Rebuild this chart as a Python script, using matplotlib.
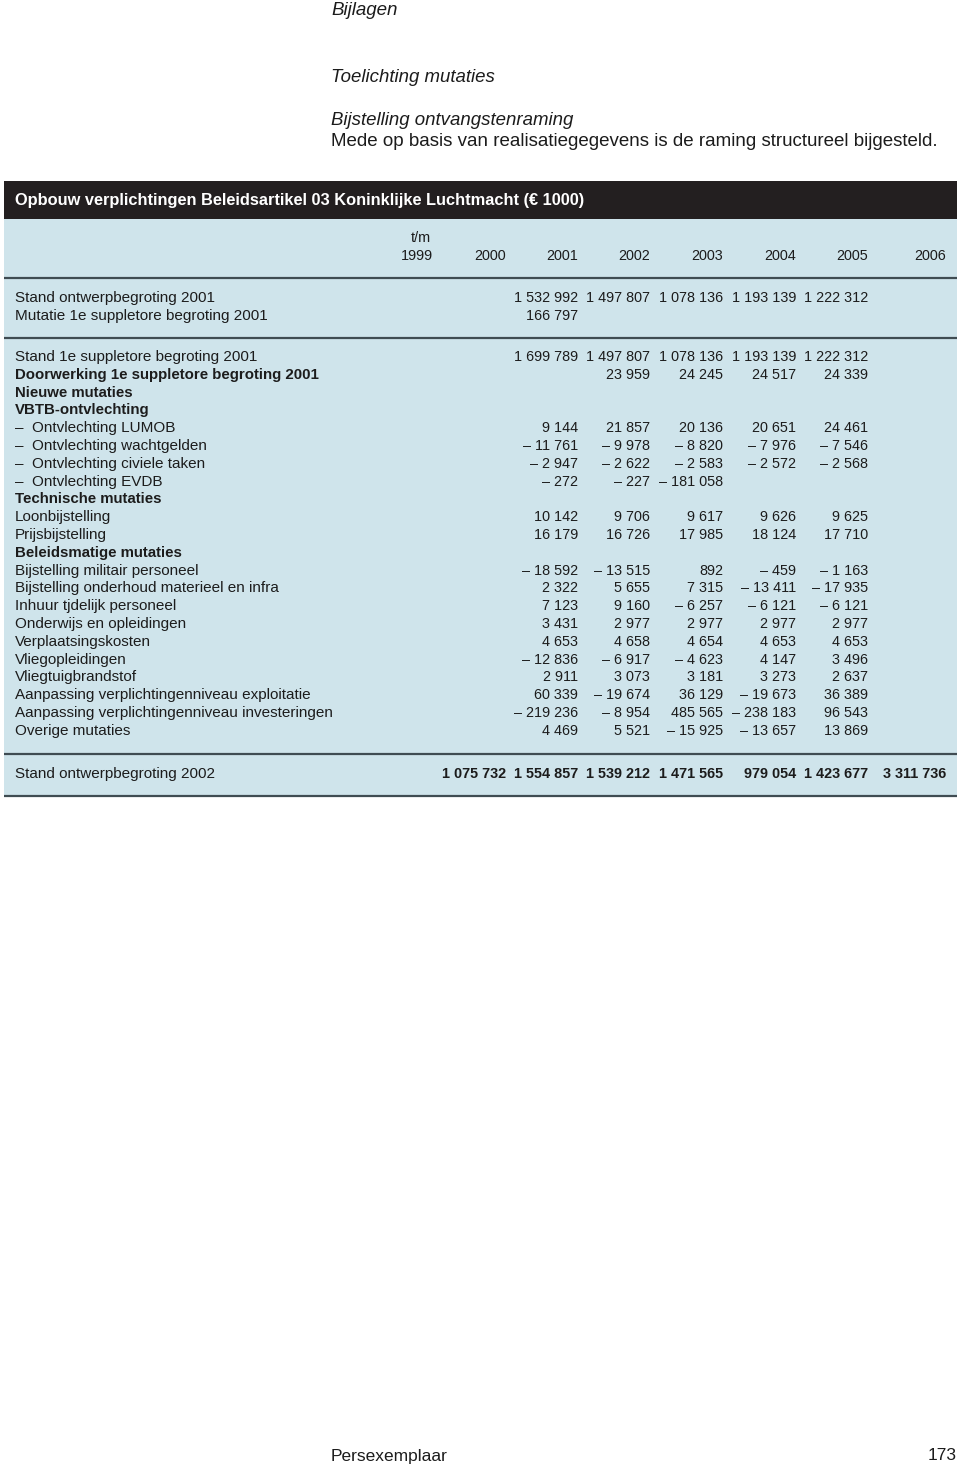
import matplotlib.pyplot as plt
from matplotlib.patches import Rectangle

plt.rcParams['font.family'] = ['Liberation Sans', 'DejaVu Sans']

# column headers
years = ["1999", "2000", "2001", "2002", "2003", "2004", "2005", "2006"]

# first block (2001 - 2005)
top_labels = ["Stand ontwerpbegroting 2001", "Mutatie 1e suppletore begroting 2001"]
top_values = [
    [1532992, 1497807, 1078136, 1193139, 1222312],
    [166797, None, None, None, None],
]

# mutation block (2001 - 2005)
row_labels = [
    "Stand 1e suppletore begroting 2001",
    "Doorwerking 1e suppletore begroting 2001",
    "Nieuwe mutaties",
    "VBTB-ontvlechting",
    "\u2013  Ontvlechting LUMOB",
    "\u2013  Ontvlechting wachtgelden",
    "\u2013  Ontvlechting civiele taken",
    "\u2013  Ontvlechting EVDB",
    "Technische mutaties",
    "Loonbijstelling",
    "Prijsbijstelling",
    "Beleidsmatige mutaties",
    "Bijstelling militair personeel",
    "Bijstelling onderhoud materieel en infra",
    "Inhuur tjdelijk personeel",
    "Onderwijs en opleidingen",
    "Verplaatsingskosten",
    "Vliegopleidingen",
    "Vliegtuigbrandstof",
    "Aanpassing verplichtingenniveau exploitatie",
    "Aanpassing verplichtingenniveau investeringen",
    "Overige mutaties",
]
bold_rows = ["Doorwerking 1e suppletore begroting 2001", "Nieuwe mutaties",
             "VBTB-ontvlechting", "Technische mutaties", "Beleidsmatige mutaties"]
row_values = [
    [1699789, 1497807, 1078136, 1193139, 1222312],
    [None, 23959, 24245, 24517, 24339],
    [None] * 5,
    [None] * 5,
    [9144, 21857, 20136, 20651, 24461],
    [-11761, -9978, -8820, -7976, -7546],
    [-2947, -2622, -2583, -2572, -2568],
    [-272, -227, -181058, None, None],
    [None] * 5,
    [10142, 9706, 9617, 9626, 9625],
    [16179, 16726, 17985, 18124, 17710],
    [None] * 5,
    [-18592, -13515, 892, -459, -1163],
    [2322, 5655, 7315, -13411, -17935],
    [7123, 9160, -6257, -6121, -6121],
    [3431, 2977, 2977, 2977, 2977],
    [4653, 4658, 4654, 4653, 4653],
    [-12836, -6917, -4623, 4147, 3496],
    [2911, 3073, 3181, 3273, 2637],
    [60339, -19674, 36129, -19673, 36389],
    [-219236, -8954, 485565, -238183, 96543],
    [4469, 5521, -15925, -13657, 13869],
]

# final row (2000 - 2006)
total_label = "Stand ontwerpbegroting 2002"
total_values = [1075732, 1554857, 1539212, 1471565, 979054, 1423677, 3311736]


def fmt(v):
    if v is None:
        return ""
    s = f"{abs(v):,}".replace(",", " ")
    return ("\u2013 " + s) if v < 0 else s


dark = "#231f20"
light = "#cfe4eb"
rule = "#3f4c52"
ink = "#1c1c1c"
fs_num = 10.4      # numbers
fs_lab = 11.0      # normal row labels
fs_bold = 10.8     # bold row labels

fig = plt.figure(figsize=(9.6, 14.69), dpi=100)
ax = fig.add_axes([0, 0, 1, 1])
ax.set_xlim(0, 960)
ax.set_ylim(1469, 0)
ax.axis("off")

# page texts
ax.text(331, 15, "Bijlagen", fontsize=13.5, style="italic", color=ink, va="baseline")
ax.text(331, 77, "Toelichting mutaties", fontsize=13.4, style="italic", color=ink, va="center")
ax.text(331, 120, "Bijstelling ontvangstenraming", fontsize=13.4, style="italic", color=ink, va="center")
ax.text(331, 141, "Mede op basis van realisatiegegevens is de raming structureel bijgesteld.",
        fontsize=13.5, color=ink, va="center")
ax.text(331, 1456, "Persexemplaar", fontsize=12.5, color=ink, va="center")
ax.text(957, 1456, "173", fontsize=12.5, color=ink, va="center", ha="right")

# table background
left, right = 4, 957
ax.add_patch(Rectangle((left, 219), right - left, 796 - 219, color=light, lw=0))
ax.add_patch(Rectangle((left, 181), right - left, 38, color=dark, lw=0))
for y in [278, 338, 754, 796]:
    ax.plot([left, right], [y, y], color=rule, lw=1.6, solid_capstyle="butt")

ax.text(15, 200, "Opbouw verplichtingen Beleidsartikel 03 Koninklijke Luchtmacht (\u20ac 1000)",
        fontsize=11.8, fontweight="bold", color="white", va="center")

# column right edges
col_x = [433, 506, 578, 650, 723, 796, 868, 946]
ax.text(col_x[0] - 12, 238, "t/m", fontsize=fs_num, color=ink, va="center", ha="center")
for x, yr in zip(col_x, years):
    ax.text(x, 256, yr, fontsize=fs_num, color=ink, va="center", ha="right")

data_cols = col_x[2:7]
step = 17.8

for i, (lab, vals) in enumerate(zip(top_labels, top_values)):
    y = 298 + i * step
    ax.text(15, y, lab, fontsize=fs_lab, color=ink, va="center")
    for x, v in zip(data_cols, vals):
        ax.text(x, y, fmt(v), fontsize=fs_num, color=ink, va="center", ha="right")

for i, (lab, vals) in enumerate(zip(row_labels, row_values)):
    y = 357 + i * step
    if lab in bold_rows:
        ax.text(15, y, lab, fontsize=fs_bold, color=ink, va="center", fontweight="bold")
    else:
        ax.text(15, y, lab, fontsize=fs_lab, color=ink, va="center")
    for x, v in zip(data_cols, vals):
        ax.text(x, y, fmt(v), fontsize=fs_num, color=ink, va="center", ha="right")

ax.text(15, 774, total_label, fontsize=fs_lab, color=ink, va="center")
for x, v in zip(col_x[1:], total_values):
    ax.text(x, 774, fmt(v), fontsize=fs_num, color=ink, va="center", ha="right", fontweight="bold")

fig.savefig("out.png", dpi=100)
